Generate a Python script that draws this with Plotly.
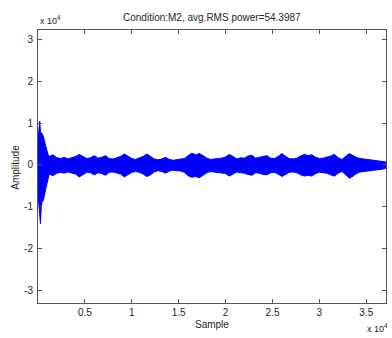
import plotly.graph_objects as go

# Envelope of the recorded signal (sample index, amplitude in units of 1e4)
sample_idx = [0, 100, 180, 260, 350, 450, 550, 650, 750, 850, 950, 1050, 1150,
              1200, 1600, 2000, 2400, 2800, 3200, 3600, 4000, 4400, 4800, 5200, 5600,
              6000, 6400, 6800, 7200, 7600, 8000, 8400, 8800, 9200, 9600, 10000, 10400,
              10800, 11200, 11600, 12000, 12400, 12800, 13200, 13600, 14000, 14400, 14800,
              15200, 15600, 16000, 16400, 16800, 17200, 17600, 18000, 18400, 18800, 19200,
              19600, 20000, 20400, 20800, 21200, 21600, 22000, 22400, 22800, 23200, 23600,
              24000, 24400, 24800, 25200, 25600, 26000, 26400, 26800, 27200, 27600, 28000,
              28400, 28800, 29200, 29600, 30000, 30400, 30800, 31200, 31600, 32000, 32400,
              32800, 33200, 33600, 34000, 34400, 34800, 35200, 35600, 36000, 36400, 36800,
              37100]
upper_env = [0.6, 0.85, 1.05, 0.8, 0.76, 0.74, 0.7, 0.6, 0.5, 0.4, 0.33, 0.26, 0.21,
             0.2, 0.24, 0.17, 0.15, 0.18, 0.14, 0.17, 0.2, 0.25, 0.19, 0.15, 0.17,
             0.22, 0.16, 0.18, 0.22, 0.15, 0.14, 0.17, 0.2, 0.26, 0.2, 0.15, 0.13,
             0.16, 0.2, 0.26, 0.2, 0.14, 0.12, 0.14, 0.18, 0.13, 0.11, 0.12,
             0.13, 0.15, 0.22, 0.28, 0.24, 0.27, 0.22, 0.16, 0.13, 0.14, 0.15,
             0.16, 0.19, 0.25, 0.2, 0.14, 0.17, 0.16, 0.21, 0.23, 0.16, 0.18,
             0.2, 0.22, 0.16, 0.15, 0.2, 0.27, 0.2, 0.15, 0.14, 0.16, 0.21,
             0.25, 0.22, 0.24, 0.18, 0.15, 0.16, 0.18, 0.21, 0.25, 0.17, 0.13,
             0.2, 0.27, 0.22, 0.17, 0.15, 0.14, 0.13, 0.12, 0.11, 0.1, 0.08,
             0.07]
lower_env = [-0.7, -1.0, -1.2, -1.41, -1.0, -0.88, -0.86, -0.78, -0.66, -0.55, -0.45, -0.34, -0.25,
             -0.22, -0.26, -0.2, -0.18, -0.2, -0.17, -0.19, -0.22, -0.29, -0.23, -0.18, -0.19,
             -0.24, -0.19, -0.21, -0.25, -0.18, -0.17, -0.19, -0.22, -0.29, -0.23, -0.18, -0.16,
             -0.18, -0.22, -0.28, -0.24, -0.17, -0.14, -0.16, -0.2, -0.15, -0.13, -0.14,
             -0.15, -0.18, -0.26, -0.3, -0.28, -0.31, -0.25, -0.19, -0.16, -0.17, -0.18,
             -0.19, -0.21, -0.27, -0.22, -0.17, -0.19, -0.2, -0.23, -0.25, -0.19, -0.2,
             -0.23, -0.24, -0.19, -0.18, -0.22, -0.28, -0.23, -0.18, -0.17, -0.19, -0.24,
             -0.27, -0.25, -0.27, -0.21, -0.18, -0.19, -0.2, -0.24, -0.27, -0.2, -0.16,
             -0.24, -0.32, -0.27, -0.2, -0.17, -0.16, -0.15, -0.14, -0.13, -0.12, -0.1,
             -0.08]

x_tickvals = [5000, 10000, 15000, 20000, 25000, 30000, 35000]
x_ticktext = ["0.5", "1", "1.5", "2", "2.5", "3", "3.5"]
y_tickvals = [-3, -2, -1, 0, 1, 2, 3]
y_ticktext = ["-3", "-2", "-1", "0", "1", "2", "3"]

BLUE = "#0000ff"
TXT = "#262626"
FONT = "Liberation Sans, Arial, sans-serif"

fig = go.Figure()
fig.add_trace(go.Scatter(x=sample_idx, y=upper_env, mode="lines",
                         line=dict(color=BLUE, width=1), hoverinfo="skip", showlegend=False))
fig.add_trace(go.Scatter(x=sample_idx, y=lower_env, mode="lines", fill="tonexty",
                         fillcolor=BLUE, line=dict(color=BLUE, width=1),
                         hoverinfo="skip", showlegend=False))

L, R, T, B = 37.5, 386, 29.5, 303
W, H = 392, 338
pw, ph = R - L, B - T

def px_x(px):
    return (px - L) / pw

def px_y(py):
    return (B - py) / ph

axis_common = dict(showgrid=False, zeroline=False, showline=True, linecolor="#555555",
                   linewidth=1, mirror="ticks", ticks="inside", ticklen=4,
                   tickcolor="#555555", tickfont=dict(family=FONT, size=10, color=TXT))

fig.update_layout(
    width=W, height=H,
    margin=dict(l=L, r=W - R, t=T, b=H - B),
    paper_bgcolor="white", plot_bgcolor="white",
    xaxis=dict(range=[0, 37100], tickvals=x_tickvals, ticktext=x_ticktext, **axis_common),
    yaxis=dict(range=[-3.31, 3.23], tickvals=y_tickvals, ticktext=y_ticktext,
               ticklabelstandoff=2, **axis_common),
    font=dict(family=FONT, size=10, color=TXT),
    annotations=[
        dict(text="Condition:M2, avg.RMS power=54.3987", xref="paper", yref="paper",
             x=0.5, y=px_y(17), xanchor="center", yanchor="middle", showarrow=False,
             font=dict(family=FONT, size=10, color=TXT)),
        dict(text="x 10<sup>4</sup>", xref="paper", yref="paper",
             x=px_x(38), y=px_y(19), xanchor="left", yanchor="middle", showarrow=False,
             font=dict(family=FONT, size=9, color=TXT)),
        dict(text="x 10<sup>4</sup>", xref="paper", yref="paper",
             x=px_x(390), y=px_y(328), xanchor="right", yanchor="middle", showarrow=False,
             font=dict(family=FONT, size=9, color=TXT)),
        dict(text="Sample", xref="paper", yref="paper",
             x=0.5, y=px_y(325), xanchor="center", yanchor="middle", showarrow=False,
             font=dict(family=FONT, size=10, color=TXT)),
        dict(text="Amplitude", xref="paper", yref="paper", textangle=-90,
             x=px_x(15), y=px_y(167), xanchor="center", yanchor="middle", showarrow=False,
             font=dict(family=FONT, size=10, color=TXT)),
    ],
)

fig.write_html("out.html")
